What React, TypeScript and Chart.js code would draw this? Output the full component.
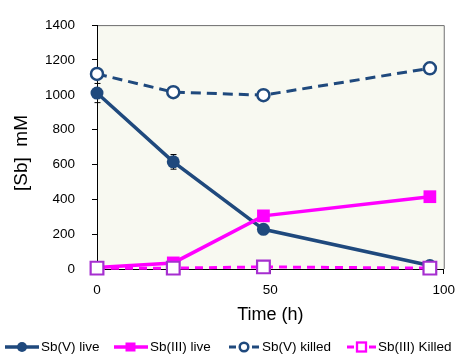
import React, { useEffect, useRef } from 'react';
import { Chart, registerables } from 'chart.js';
Chart.register(...registerables);

const times = [0, 22, 48, 96];
const sbVLive = [1010, 615, 228, 20];
const sbVLiveErr = [55, 42, 0, 0];
const sbIIILive = [8, 35, 305, 415];
const sbIIILiveErr = [0, 0, 0, 22];
const sbVKilled = [1120, 1015, 998, 1152];
const sbIIIKilled = [5, 5, 12, 5];
const xTickValues = [0, 50, 100];
const yTickValues = [0, 200, 400, 600, 800, 1000, 1200, 1400];
const seriesNames = ['Sb(V) live', 'Sb(III) live', 'Sb(V) killed', 'Sb(III) Killed'];
const xTitle = 'Time (h)';
const yTitle = '[Sb]  mM';

const NAVY = '#1F497D';
const MAGENTA = '#FF00FF';
const KILLED_SQ = '#A62ED0';
const FONT = "'Liberation Sans', Arial, sans-serif";

const errs: Record<number, number[]> = { 0: sbVLiveErr, 1: sbIIILiveErr };

const bgPlugin = {
  id: 'bgFrame',
  beforeDraw(chart: any) {
    const { ctx, chartArea: a } = chart;
    ctx.save();
    ctx.fillStyle = '#F8F9F1';
    ctx.fillRect(a.left, a.top, a.right - a.left, a.bottom - a.top);
    ctx.strokeStyle = '#6E6E6E';
    ctx.lineWidth = 1;
    ctx.beginPath();
    ctx.moveTo(a.left, a.top + 0.5);
    ctx.lineTo(a.right + 0.5, a.top + 0.5);
    ctx.lineTo(a.right + 0.5, a.bottom);
    ctx.stroke();
    ctx.restore();
  },
  afterDraw(chart: any) {
    const { ctx } = chart;
    ctx.save();
    ctx.translate(22, 153);
    ctx.rotate(-Math.PI / 2);
    ctx.fillStyle = '#000';
    ctx.font = `19px ${FONT}`;
    ctx.textAlign = 'center';
    ctx.textBaseline = 'middle';
    ctx.fillText(yTitle, 0, 0);
    ctx.restore();
  },
};

const errPlugin = {
  id: 'errBars',
  beforeDatasetsDraw(chart: any) {
    const { ctx } = chart;
    const xs = chart.scales.x;
    const ys = chart.scales.y;
    ctx.save();
    ctx.strokeStyle = '#000';
    ctx.lineWidth = 1;
    Object.keys(errs).forEach((k) => {
      const di = Number(k);
      const ds = chart.data.datasets[di];
      errs[di].forEach((e, i) => {
        if (!e) return;
        const v = ds.data[i].y;
        const x = Math.round(xs.getPixelForValue(ds.data[i].x)) + 0.5;
        const y1 = ys.getPixelForValue(v + e);
        const y2 = ys.getPixelForValue(v - e);
        ctx.beginPath();
        ctx.moveTo(x, y1);
        ctx.lineTo(x, y2);
        ctx.moveTo(x - 3, y1);
        ctx.lineTo(x + 3, y1);
        ctx.moveTo(x - 3, y2);
        ctx.lineTo(x + 3, y2);
        ctx.stroke();
      });
    });
    ctx.restore();
  },
};

function pts(vals: number[]) {
  return times.map((t, i) => ({ x: t, y: vals[i] }));
}

function LegendSym({ kind }: { kind: number }) {
  if (kind === 0)
    return (
      <svg width="36" height="12">
        <line x1="1" y1="6" x2="35" y2="6" stroke={NAVY} strokeWidth="3.5" />
        <circle cx="18" cy="6" r="5" fill={NAVY} />
      </svg>
    );
  if (kind === 1)
    return (
      <svg width="36" height="12">
        <line x1="1" y1="6" x2="35" y2="6" stroke={MAGENTA} strokeWidth="3.5" />
        <rect x="12.5" y="1.5" width="10" height="9" fill={MAGENTA} />
      </svg>
    );
  if (kind === 2)
    return (
      <svg width="32" height="12">
        <line x1="1" y1="6" x2="8" y2="6" stroke={NAVY} strokeWidth="3" />
        <circle cx="16" cy="6" r="4.3" fill="#fff" stroke={NAVY} strokeWidth="2.5" />
        <line x1="24" y1="6" x2="31" y2="6" stroke={NAVY} strokeWidth="3" />
      </svg>
    );
  return (
    <svg width="32" height="12">
      <line x1="1" y1="6" x2="8" y2="6" stroke={MAGENTA} strokeWidth="3" />
      <rect x="11" y="1.5" width="9" height="9" fill="#fff" stroke={MAGENTA} strokeWidth="2.3" />
      <line x1="23" y1="6" x2="30" y2="6" stroke={MAGENTA} strokeWidth="3" />
    </svg>
  );
}

const legendPos = [
  { sym: 4, text: 41 },
  { sym: 113, text: 150 },
  { sym: 228, text: 262 },
  { sym: 346, text: 378 },
];

const fmt = (v: any) => String(v);

export default function App() {
  const ref = useRef<HTMLCanvasElement>(null);
  useEffect(() => {
    if (!ref.current) return;
    const chart = new Chart(ref.current, {
      type: 'line',
      data: {
        datasets: [
          {
            label: seriesNames[0],
            data: pts(sbVLive),
            borderColor: NAVY,
            backgroundColor: NAVY,
            borderWidth: 3.5,
            pointStyle: 'circle',
            pointRadius: 6.5,
            pointBorderWidth: 0,
            clip: false,
            order: 3,
          },
          {
            label: seriesNames[1],
            data: pts(sbIIILive),
            borderColor: MAGENTA,
            backgroundColor: MAGENTA,
            borderWidth: 3.5,
            pointStyle: 'rect',
            pointRadius: 9,
            pointBorderWidth: 0,
            clip: false,
            order: 2,
          },
          {
            label: seriesNames[2],
            data: pts(sbVKilled),
            borderColor: NAVY,
            backgroundColor: '#fff',
            borderWidth: 3,
            borderDash: [10, 6],
            pointStyle: 'circle',
            pointRadius: 6,
            pointBorderWidth: 2.5,
            pointBorderColor: NAVY,
            pointBackgroundColor: '#fff',
            clip: false,
            order: 1,
          },
          {
            label: seriesNames[3],
            data: pts(sbIIIKilled),
            borderColor: MAGENTA,
            backgroundColor: '#fff',
            borderWidth: 3,
            borderDash: [8, 6],
            pointStyle: 'rect',
            pointRadius: 9,
            pointBorderWidth: 2.2,
            pointBorderColor: KILLED_SQ,
            pointBackgroundColor: '#fff',
            clip: false,
            order: 0,
          },
        ],
      },
      options: {
        animation: false,
        responsive: false,
        maintainAspectRatio: false,
        layout: { padding: { top: 15, right: 15, left: 0, bottom: 0 } },
        plugins: { legend: { display: false }, tooltip: { enabled: false } },
        scales: {
          x: {
            type: 'linear',
            min: 0,
            max: 100,
            afterFit: (s: any) => {
              s.height = 89;
            },
            afterBuildTicks: (s: any) => {
              s.ticks = xTickValues.map((v) => ({ value: v }));
            },
            grid: { drawOnChartArea: false, drawTicks: true, tickLength: 5, color: '#000' },
            border: { display: true, color: '#000', width: 1 },
            ticks: { color: '#000', font: { family: FONT, size: 13.5 }, padding: 8, maxRotation: 0, callback: fmt },
            title: {
              display: true,
              text: xTitle,
              color: '#000',
              font: { family: FONT, size: 18 },
              padding: { top: 0, bottom: 32 },
            },
          },
          y: {
            type: 'linear',
            min: 0,
            max: 1400,
            afterFit: (s: any) => {
              s.width = 97;
            },
            afterBuildTicks: (s: any) => {
              s.ticks = yTickValues.map((v) => ({ value: v }));
            },
            grid: { drawOnChartArea: false, drawTicks: true, tickLength: 5, color: '#000' },
            border: { display: true, color: '#000', width: 1 },
            ticks: { color: '#000', font: { family: FONT, size: 13.5 }, padding: 17, callback: fmt },
          },
        },
      },
      plugins: [bgPlugin, errPlugin],
    } as any);
    return () => chart.destroy();
  }, []);

  return (
    <div style={{ position: 'absolute', left: 0, top: 0, width: 463, height: 358, background: '#fff' }}>
      <canvas ref={ref} width={463} height={358} style={{ position: 'absolute', left: 0, top: 0 }} />
      {legendPos.map((p, i) => (
        <React.Fragment key={i}>
          <div style={{ position: 'absolute', left: p.sym, top: 341, height: 12, lineHeight: 0 }}>
            <LegendSym kind={i} />
          </div>
          <div
            style={{
              position: 'absolute',
              left: p.text,
              top: 339,
              fontFamily: FONT,
              fontSize: 13.5,
              lineHeight: '16px',
              color: '#000',
              whiteSpace: 'nowrap',
            }}
          >
            {seriesNames[i]}
          </div>
        </React.Fragment>
      ))}
    </div>
  );
}
